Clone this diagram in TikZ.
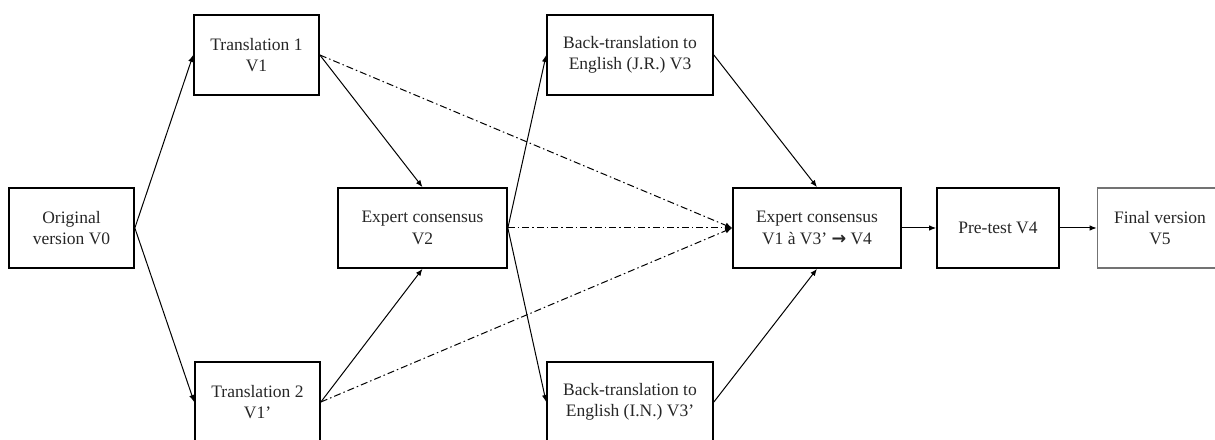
\documentclass[tikz,border=0pt]{standalone}
\usepackage{fontspec}
\setmainfont{Liberation Serif}
\newfontfamily\arrowfont{DejaVu Sans}
\usetikzlibrary{positioning,arrows.meta}
\tikzset{%
  stage/.style={
    rectangle,
    draw,
    line width=1.7pt,
    align=center,
    inner sep=0pt,
    minimum width=125pt,
    minimum height=80pt,
    text=black!85
  },
  stage last/.style={
    stage,
    draw=black!55
  },
  cross check/.style={
    line width=1pt,
    dash pattern=on 7pt off 3pt on 1.5pt off 3pt
  },
}
\begin{document}
\begin{tikzpicture}[x=1pt,y=1pt,on grid,>={Latex[length=7pt,width=5.5pt]},
                    font=\fontsize{17.5}{21.5}\selectfont]
                    \useasboundingbox (0,0) rectangle (1215,439);
                    \node[stage] (0) at (71.5,211) {Original\\version V0};
                    \node[stage] (1) [above right= 173pt and 185pt of 0] {Translation 1\\V1};
                    \node[stage] (2) [below right= 174pt and 186pt of 0] {Translation 2\\V1’};
                    \node[stage,minimum width=169pt] (3) [right= 351pt of 0] {Expert consensus\\V2};
                    \node[stage,minimum width=166pt] (4) [above right= 173pt and 207.5pt of 3] {Back-translation to\\English (J.R.) V3};
                    \node[stage,minimum width=166pt] (5) [below right= 174pt and 207.5pt of 3] {Back-translation to\\English (I.N.) V3’};
                    \node[stage,minimum width=168pt] (6) [right= 394.5pt of 3] {Expert consensus\\V1 à V3’ {\arrowfont\bfseries →} V4};
                    \node[stage,minimum width=122pt] (7) [right= 181pt of 6] {Pre-test V4};
                    \node[stage last] (8) [right= 162pt of 7] {Final version\\V5};
                    \path[->,line width=1pt]
                        (0.east) edge (1.west)
                                 edge (2.west)
                        (1.east) edge (3.north)
                        (2.east) edge (3.south)
                        (3.east) edge (4.west)
                                 edge (5.west)
                        (4.east) edge (6.north)
                        (5.east) edge (6.south)
                        (6) edge (7)
                        (7) edge (8)
                        ;
                    \path[->,cross check]
                        (1.east) edge (6.west)
                        (3.east) edge (6.west)
                        (2.east) edge (6.west)
                        ;
                \end{tikzpicture}
\end{document}
